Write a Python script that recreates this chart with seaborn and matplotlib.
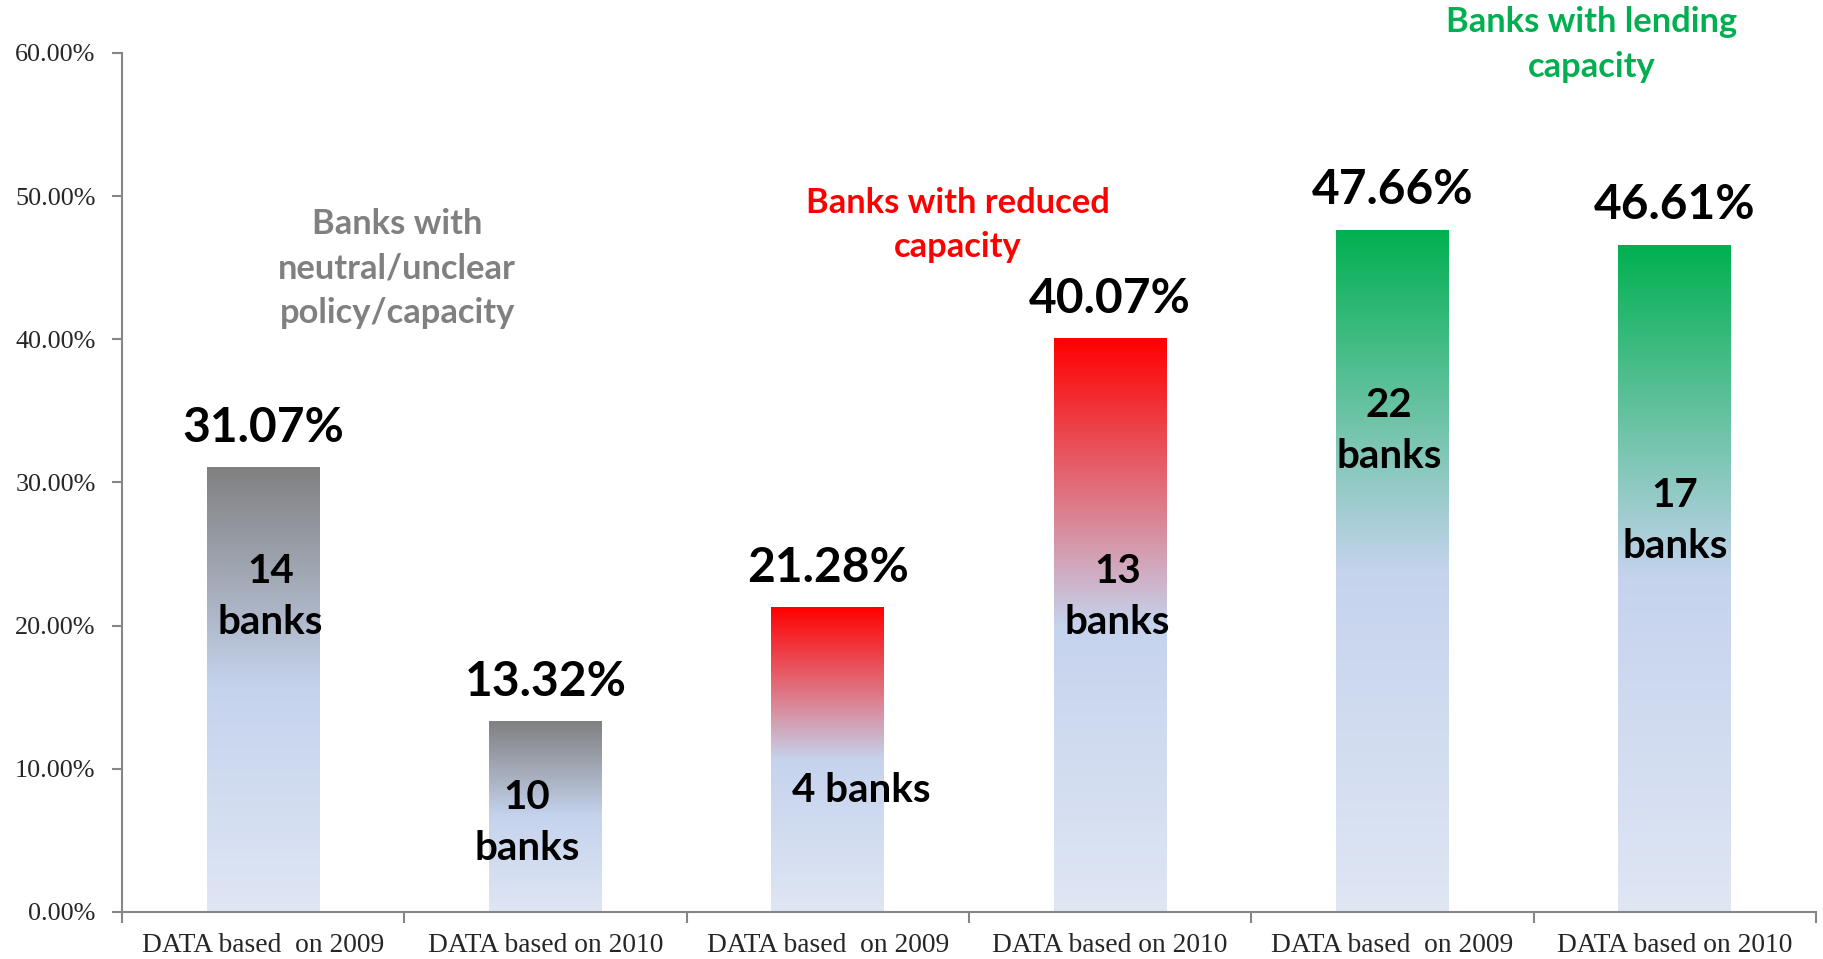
import numpy as np
import pandas as pd
import matplotlib
matplotlib.use("Agg")
import matplotlib.pyplot as plt
import matplotlib.colors as mcolors
import seaborn as sns

# ---------------- data ----------------
categories = ["DATA based  on 2009", "DATA based on 2010",
              "DATA based  on 2009", "DATA based on 2010",
              "DATA based  on 2009", "DATA based on 2010"]
values = [31.07, 13.32, 21.28, 40.07, 47.66, 46.61]
bank_labels = ["14\nbanks", "10\nbanks", "4 banks", "13\nbanks", "22\nbanks", "17\nbanks"]
bank_label_y = [22.0, 6.2, 8.5, 22.0, 33.6, 27.3]
groups = ["neutral", "neutral", "reduced", "reduced", "lending", "lending"]
group_titles = ["Banks with\nneutral/unclear\npolicy/capacity",
                "Banks with reduced\ncapacity",
                "Banks with lending\ncapacity"]
group_title_x = [0.475, 2.46, 4.706]
group_title_y = [44.96, 48.0, 60.6]
yticks = [0, 10, 20, 30, 40, 50, 60]

# ---------------- style ----------------
sns.set_theme(style="white")
plt.rcParams["font.family"] = ["Lato", "DejaVu Sans"]

top_colors = {"neutral": "#808080", "reduced": "#ff0000", "lending": "#00b050"}
title_colors = ["#808080", "#ff0000", "#00b050"]
mid_blue = np.array(mcolors.to_rgb("#c5d3ed"))
low_blue = np.array(mcolors.to_rgb("#dfe6f4"))
axis_gray = "#868686"

fig = plt.figure(figsize=(18.24, 9.59), dpi=100)
ax = fig.add_axes([122 / 1824, 1 - 912 / 959, (1816 - 122) / 1824, (912 - 53) / 959])

df = pd.DataFrame({"slot": list(range(len(values))), "value": values})
sns.barplot(data=df, x="slot", y="value", ax=ax, width=0.4, color="white",
            saturation=1, edgecolor="none", errorbar=None)


def gradient(top_hex, n=300):
    top = np.array(mcolors.to_rgb(top_hex))
    t = np.linspace(0, 1, n)[:, None]
    upper = top + (mid_blue - top) * np.clip(t / 0.5, 0, 1)
    lower = mid_blue + (low_blue - mid_blue) * np.clip((t - 0.5) / 0.5, 0, 1)
    img = np.where(t <= 0.5, upper, lower)
    return img[:, None, :]


for patch, g in zip(ax.patches, groups):
    x0 = patch.get_x()
    w = patch.get_width()
    h = patch.get_height()
    patch.set_facecolor("none")
    im = ax.imshow(gradient(top_colors[g]), extent=[x0, x0 + w, 0, h],
                   origin="upper", aspect="auto", zorder=2, interpolation="bilinear")
    im.set_clip_path(patch)

ax.set_xlim(-0.5, len(values) - 0.5)
ax.set_ylim(0, 60)

# value labels
for i, v in enumerate(values):
    ax.annotate(f"{v:.2f}%", xy=(i, v), xytext=(0, 28.5), textcoords="offset points",
                ha="center", va="center", fontsize=34.5, fontweight="bold", color="black")

# bank count labels
bank_dx = [0.025, -0.066, 0.12, 0.025, -0.012, 0.0]
for i, (lab, y) in enumerate(zip(bank_labels, bank_label_y)):
    ax.text(i + bank_dx[i], y, lab, ha="center", va="center", fontsize=29,
            fontweight="bold", color="black", linespacing=1.47, zorder=5)

# group titles
for t, x, y, c in zip(group_titles, group_title_x, group_title_y, title_colors):
    ax.text(x, y, t, ha="center", va="center", fontsize=24.8, fontweight="bold",
            color=c, linespacing=1.48, clip_on=False, zorder=5)

# axes styling
for s in ["top", "right"]:
    ax.spines[s].set_visible(False)
for s in ["left", "bottom"]:
    ax.spines[s].set_color(axis_gray)
    ax.spines[s].set_linewidth(1.5)

ax.set_yticks(yticks)
ax.set_yticklabels([f"{y:.2f}%" for y in yticks], fontfamily="Liberation Serif", fontsize=18.8)
ax.tick_params(axis="y", left=True, length=7, width=1.5, color=axis_gray, pad=12)

ax.set_xticks(np.arange(-0.5, len(values)), labels=[""] * (len(values) + 1))
ax.tick_params(axis="x", which="major", bottom=True, length=8, width=1.5, color=axis_gray)
ax.set_xticks(np.arange(len(values)), minor=True)
ax.set_xticklabels(categories, minor=True, fontfamily="Liberation Serif", fontsize=19.8)
ax.tick_params(axis="x", which="minor", bottom=True, length=0, pad=15)
ax.set_xlabel("")
ax.set_ylabel("")
ax.grid(False)

fig.savefig("out.png", dpi=100)
